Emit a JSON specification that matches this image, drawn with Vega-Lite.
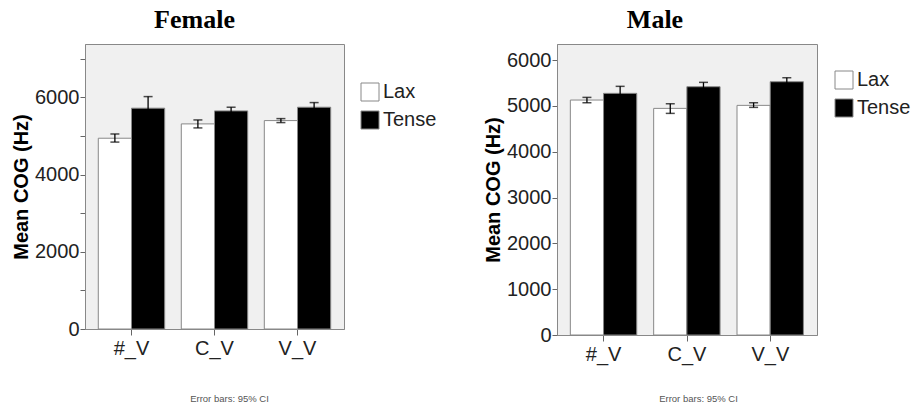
{
  "$schema": "https://vega.github.io/schema/vega-lite/v6.json",
  "padding": {"left": 11, "top": 6, "right": 0, "bottom": 0},
  "data": {"values": [
    {"sex": "Female", "cat": "#_V", "group": "Lax", "mean": 4940, "lo": 4840, "hi": 5050},
    {"sex": "Female", "cat": "#_V", "group": "Tense", "mean": 5718, "lo": 5418, "hi": 6018},
    {"sex": "Female", "cat": "C_V", "group": "Lax", "mean": 5311, "lo": 5207, "hi": 5414},
    {"sex": "Female", "cat": "C_V", "group": "Tense", "mean": 5648, "lo": 5553, "hi": 5743},
    {"sex": "Female", "cat": "V_V", "group": "Lax", "mean": 5397, "lo": 5345, "hi": 5448},
    {"sex": "Female", "cat": "V_V", "group": "Tense", "mean": 5743, "lo": 5623, "hi": 5863},
    {"sex": "Male", "cat": "#_V", "group": "Lax", "mean": 5127, "lo": 5068, "hi": 5185},
    {"sex": "Male", "cat": "#_V", "group": "Tense", "mean": 5273, "lo": 5120, "hi": 5426},
    {"sex": "Male", "cat": "C_V", "group": "Lax", "mean": 4945, "lo": 4836, "hi": 5046},
    {"sex": "Male", "cat": "C_V", "group": "Tense", "mean": 5418, "lo": 5323, "hi": 5513},
    {"sex": "Male", "cat": "V_V", "group": "Lax", "mean": 5011, "lo": 4967, "hi": 5068},
    {"sex": "Male", "cat": "V_V", "group": "Tense", "mean": 5527, "lo": 5440, "hi": 5614}
  ]},
  "config": {
    "view": {"fill": "#f0f0f0", "stroke": "#888", "strokeWidth": 1},
    "font": "Liberation Sans",
    "axis": {"labelFont": "Liberation Sans", "labelFontSize": 20, "labelColor": "#222", "domainColor": "#888", "tickColor": "#666", "grid": false, "titleFont": "Liberation Sans"},
    "title": {"font": "Liberation Serif", "fontSize": 26, "fontWeight": "bold", "color": "black", "offset": 11},
    "legend": {"orient": "none", "title": null, "symbolType": "square", "symbolSize": 324, "symbolStrokeColor": "#888", "symbolStrokeWidth": 1, "labelFontSize": 20, "labelFont": "Liberation Sans", "labelColor": "#222", "labelOffset": 3, "rowPadding": 6, "padding": 0}
  },
  "spacing": 45,
  "resolve": {"scale": {"color": "independent", "y": "independent", "x": "independent"}, "legend": {"color": "independent"}},
  "hconcat": [
    {
      "width": 259, "height": 285,
      "title": {"text": "Female", "dx": -20},
      "transform": [{"filter": "datum.sex == 'Female'"}],
      "encoding": {
        "x": {"field": "cat", "type": "nominal", "sort": ["#_V", "C_V", "V_V"], "scale": {"paddingInner": 0.2, "paddingOuter": 0.16},
              "axis": {"title": "Error bars: 95% CI", "titleFontSize": 9.5, "titleFontWeight": "normal", "titleColor": "#555", "titlePadding": 35, "titleX": 144, "labelAngle": 0, "tickSize": 6, "labelPadding": 3}},
        "xOffset": {"field": "group", "type": "nominal", "sort": ["Lax", "Tense"], "scale": {"paddingInner": 0, "paddingOuter": 0}}
      },
      "layer": [
        {"mark": {"type": "bar", "stroke": "#888", "strokeWidth": 1},
         "encoding": {
           "y": {"field": "mean", "type": "quantitative", "title": "Mean COG (Hz)", "scale": {"domain": [0, 7380], "nice": false},
                 "axis": {"values": [0, 1000, 2000, 3000, 4000, 5000, 6000, 7000], "labelExpr": "datum.value % 2000 === 0 ? datum.label : ''", "format": "d", "tickSize": 5, "labelPadding": 1, "titleFontSize": 20, "titleFontWeight": "bold", "titleColor": "black", "titlePadding": 3}},
           "color": {"field": "group", "type": "nominal", "scale": {"domain": ["Lax", "Tense"], "range": ["white", "black"]}, "legend": {"legendX": 275, "legendY": 38}}
         }},
        {"mark": {"type": "rule", "color": "black", "strokeWidth": 1.3},
         "encoding": {"y": {"field": "lo", "type": "quantitative", "title": "Mean COG (Hz)"}, "y2": {"field": "hi"}}},
        {"mark": {"type": "tick", "color": "black", "size": 9, "thickness": 1.5},
         "encoding": {"y": {"field": "lo", "type": "quantitative", "title": "Mean COG (Hz)"}}},
        {"mark": {"type": "tick", "color": "black", "size": 9, "thickness": 1.5},
         "encoding": {"y": {"field": "hi", "type": "quantitative", "title": "Mean COG (Hz)"}}}
      ]
    },
    {
      "width": 260, "height": 291,
      "title": {"text": "Male", "dx": -32},
      "transform": [{"filter": "datum.sex == 'Male'"}],
      "encoding": {
        "x": {"field": "cat", "type": "nominal", "sort": ["#_V", "C_V", "V_V"], "scale": {"paddingInner": 0.2, "paddingOuter": 0.16},
              "axis": {"title": "Error bars: 95% CI", "titleFontSize": 9.5, "titleFontWeight": "normal", "titleColor": "#555", "titlePadding": 29, "titleX": 141, "labelAngle": 0, "tickSize": 6, "labelPadding": 3}},
        "xOffset": {"field": "group", "type": "nominal", "sort": ["Lax", "Tense"], "scale": {"paddingInner": 0, "paddingOuter": 0}}
      },
      "layer": [
        {"mark": {"type": "bar", "stroke": "#888", "strokeWidth": 1},
         "encoding": {
           "y": {"field": "mean", "type": "quantitative", "title": "Mean COG (Hz)", "scale": {"domain": [0, 6350], "nice": false},
                 "axis": {"values": [0, 1000, 2000, 3000, 4000, 5000, 6000], "format": "d", "tickSize": 5, "labelPadding": 1, "titleFontSize": 20, "titleFontWeight": "bold", "titleColor": "black", "titlePadding": 3}},
           "color": {"field": "group", "type": "nominal", "scale": {"domain": ["Lax", "Tense"], "range": ["white", "black"]}, "legend": {"legendX": 277, "legendY": 26}}
         }},
        {"mark": {"type": "rule", "color": "black", "strokeWidth": 1.3},
         "encoding": {"y": {"field": "lo", "type": "quantitative", "title": "Mean COG (Hz)"}, "y2": {"field": "hi"}}},
        {"mark": {"type": "tick", "color": "black", "size": 9, "thickness": 1.5},
         "encoding": {"y": {"field": "lo", "type": "quantitative", "title": "Mean COG (Hz)"}}},
        {"mark": {"type": "tick", "color": "black", "size": 9, "thickness": 1.5},
         "encoding": {"y": {"field": "hi", "type": "quantitative", "title": "Mean COG (Hz)"}}}
      ]
    }
  ]
}
